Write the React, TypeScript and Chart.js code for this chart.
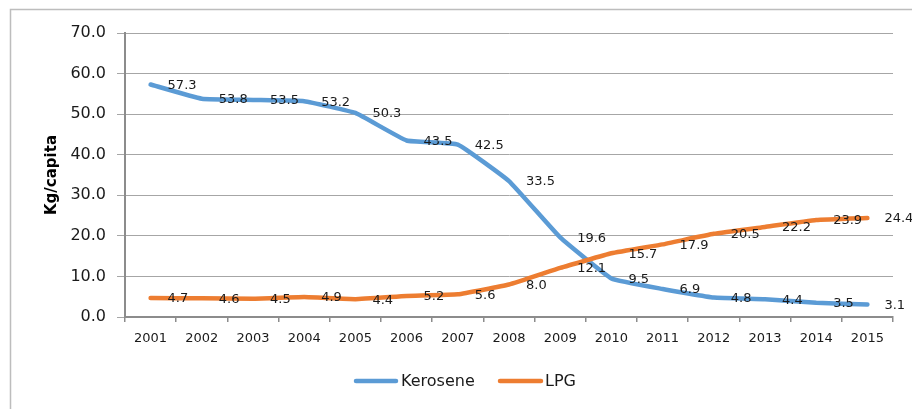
import React, { useEffect, useRef } from "react";
import { Chart, registerables } from "chart.js";

Chart.register(...registerables);

const years = ["2001","2002","2003","2004","2005","2006","2007","2008","2009","2010","2011","2012","2013","2014","2015"];
const kerosene = [57.3, 53.8, 53.5, 53.2, 50.3, 43.5, 42.5, 33.5, 19.6, 9.5, 6.9, 4.8, 4.4, 3.5, 3.1];
const lpg = [4.7, 4.6, 4.5, 4.9, 4.4, 5.2, 5.6, 8.0, 12.1, 15.7, 17.9, 20.5, 22.2, 23.9, 24.4];
const seriesNames = ["Kerosene", "LPG"];
const seriesColors = ["#5B9BD5", "#ED7D31"];
const yTitle = "Kg/capita";

const FONT = "'DejaVu Sans', sans-serif";
const TEXT = "#1a1a1a";

const customPlugin = {
  id: "custom",
  beforeDraw(chart: any) {
    const ctx = chart.ctx;
    ctx.save();
    ctx.fillStyle = "#ffffff";
    ctx.fillRect(0, 0, chart.width, chart.height);
    ctx.strokeStyle = "#BDBDBD";
    ctx.lineWidth = 1.5;
    ctx.beginPath();
    ctx.moveTo(10.5, chart.height + 2);
    ctx.lineTo(10.5, 9.5);
    ctx.lineTo(chart.width + 2, 9.5);
    ctx.stroke();
    ctx.restore();
  },
  afterDatasetsDraw(chart: any) {
    const ctx = chart.ctx;
    ctx.save();
    ctx.font = `13px ${FONT}`;
    ctx.fillStyle = TEXT;
    ctx.textAlign = "left";
    ctx.textBaseline = "middle";
    chart.data.datasets.forEach((ds: any, i: number) => {
      const meta = chart.getDatasetMeta(i);
      meta.data.forEach((pt: any, j: number) => {
        ctx.fillText(Number(ds.data[j]).toFixed(1), pt.x + 17, pt.y + 1);
      });
    });
    ctx.restore();
  },
  afterDraw(chart: any) {
    const ctx = chart.ctx;
    const area = chart.chartArea;
    ctx.save();
    ctx.font = `bold 15px ${FONT}`;
    ctx.fillStyle = "#000";
    ctx.textAlign = "center";
    ctx.textBaseline = "middle";
    ctx.translate(52, (area.top + area.bottom) / 2);
    ctx.rotate(-Math.PI / 2);
    ctx.fillText(yTitle, 0, 0);
    ctx.restore();
    ctx.save();
    const ly = 381;
    const items = [
      { x1: 356, x2: 396, tx: 401 },
      { x1: 500, x2: 541, tx: 545 },
    ];
    ctx.font = `16px ${FONT}`;
    ctx.textBaseline = "middle";
    ctx.textAlign = "left";
    items.forEach((it, i) => {
      ctx.strokeStyle = seriesColors[i];
      ctx.lineWidth = 4.5;
      ctx.lineCap = "round";
      ctx.beginPath();
      ctx.moveTo(it.x1, ly);
      ctx.lineTo(it.x2, ly);
      ctx.stroke();
      ctx.fillStyle = TEXT;
      ctx.fillText(seriesNames[i], it.tx, ly + 1);
    });
    ctx.restore();
  },
};

export default function App() {
  const ref = useRef<HTMLCanvasElement | null>(null);
  useEffect(() => {
    if (!ref.current) return;
    const chart = new Chart(ref.current, {
      type: "line",
      data: {
        labels: years,
        datasets: [
          {
            label: seriesNames[0],
            data: kerosene,
            borderColor: seriesColors[0],
            backgroundColor: seriesColors[0],
            borderWidth: 4.5,
            pointRadius: 0,
            tension: 0.1,
            borderCapStyle: "round",
            borderJoinStyle: "round",
            order: 1,
          },
          {
            label: seriesNames[1],
            data: lpg,
            borderColor: seriesColors[1],
            backgroundColor: seriesColors[1],
            borderWidth: 4.5,
            pointRadius: 0,
            tension: 0.1,
            borderCapStyle: "round",
            borderJoinStyle: "round",
            order: 0,
          },
        ],
      },
      options: {
        responsive: false,
        animation: false,
        layout: { padding: { top: 33, right: 19, left: 0, bottom: 0 } },
        plugins: {
          legend: { display: false },
          tooltip: { enabled: false },
          title: { display: false },
        },
        scales: {
          x: {
            offset: true,
            grid: {
              offset: true,
              drawOnChartArea: false,
              drawTicks: true,
              tickLength: 5,
              color: "#8C8C8C",
              lineWidth: 1.5,
            },
            border: { display: true, color: "#8C8C8C", width: 2 },
            ticks: {
              font: { family: FONT, size: 13 },
              color: TEXT,
              padding: 9,
              maxRotation: 0,
              autoSkip: false,
            },
            afterFit: (scale: any) => {
              scale.height = 92;
            },
          },
          y: {
            min: 0,
            max: 70,
            ticks: {
              stepSize: 10,
              font: { family: FONT, size: 16 },
              color: TEXT,
              padding: 11,
              callback: (v: any) => Number(v).toFixed(1),
            },
            grid: {
              color: "#A6A6A6",
              lineWidth: 1,
              drawTicks: true,
              tickLength: 8,
            },
            border: { display: true, color: "#8C8C8C", width: 2 },
            afterFit: (scale: any) => {
              scale.width = 125;
            },
          },
        },
      },
      plugins: [customPlugin],
    });
    return () => chart.destroy();
  }, []);
  return (
    <div style={{ position: "fixed", left: 0, top: 0, width: 912, height: 409, background: "#fff" }}>
      <canvas ref={ref} width={912} height={409} style={{ width: 912, height: 409, display: "block" }} />
    </div>
  );
}
